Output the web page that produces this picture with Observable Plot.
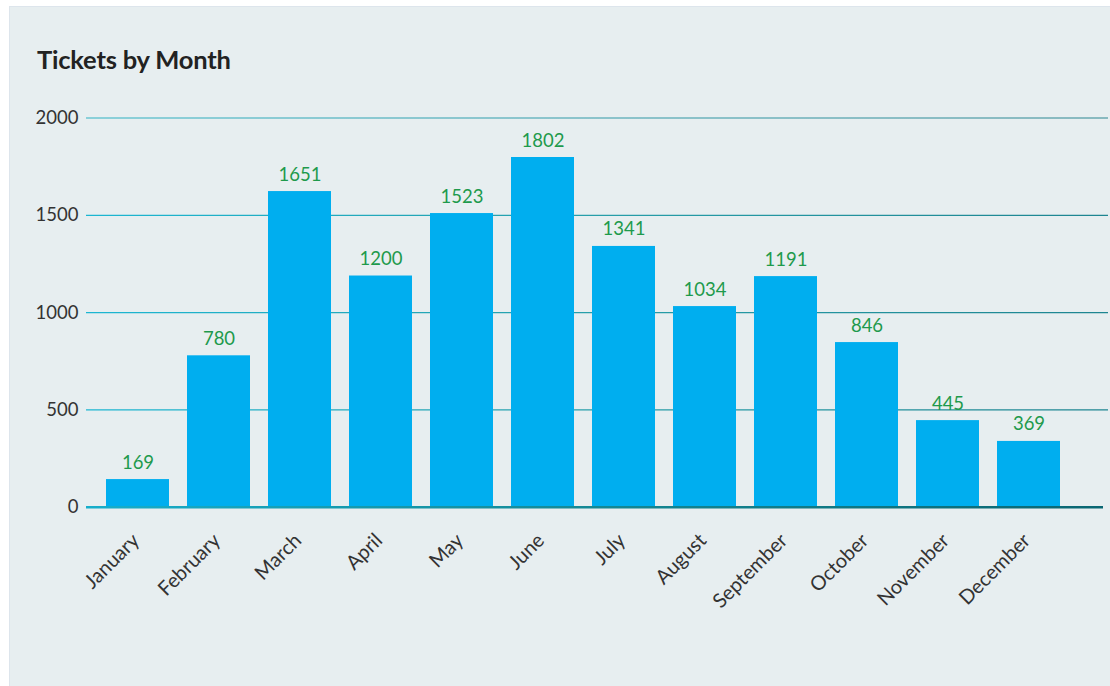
<!DOCTYPE html>
<html>
<head>
<meta charset="utf-8">
<script src="https://cdn.jsdelivr.net/npm/d3@7"></script>
<script src="https://cdn.jsdelivr.net/npm/@observablehq/plot@0.6"></script>
<style>
  html, body { margin: 0; padding: 0; background: #ffffff; }
  body { width: 1110px; height: 686px; position: relative; overflow: hidden; font-family: Lato, "Noto Sans", sans-serif; }
  #panel { position: absolute; left: 9px; top: 6px; width: 1101px; height: 680px; box-sizing: border-box;
           background: #e7eef0; border-top: 1px solid #dde5ec; border-left: 1px solid #dde5ec; }
  #title { position: absolute; left: 37px; top: 46.8px; margin: 0; font: 700 25.5px/1 Lato, sans-serif; color: #222222; letter-spacing: -0.2px; }
  #chart { position: absolute; left: 0; top: 90px; }
</style>
</head>
<body>
<div id="panel"></div>
<h1 id="title">Tickets by Month</h1>
<div id="chart"></div>
<script>
const months = ["January","February","March","April","May","June","July","August","September","October","November","December"];
// bar heights as drawn in the picture
const barValues = [142, 778, 1622, 1188, 1509, 1797, 1340, 1031, 1185, 846, 445, 338];
// value labels printed above the bars
const labelValues = [169, 780, 1651, 1200, 1523, 1802, 1341, 1034, 1191, 846, 445, 369];
const yTicks = [0, 500, 1000, 1500, 2000];

const data = months.map((m, i) => ({month: m, bar: barValues[i], label: labelValues[i]}));

const chart = Plot.plot({
  width: 1110,
  height: 596,
  marginLeft: 86,
  marginRight: 2,
  marginTop: 27.5,
  marginBottom: 179.3,
  style: {background: "none", fontFamily: "Lato, sans-serif", fontSize: "18px", color: "#333333"},
  x: {domain: months, range: [86.5, 1079.5], paddingInner: 0.228, paddingOuter: 0.228, label: null},
  y: {domain: [0, 2000], ticks: yTicks, label: null},
  marks: [
    Plot.ruleY(yTicks.filter(t => t > 0 && t < 2000), {stroke: "url(#gridGrad)", strokeWidth: 1.3}),
    Plot.ruleY([2000], {stroke: "url(#topGrad)", strokeWidth: 1.5}),
    Plot.barY(data, {x: "month", y: "bar", fill: "#00aeef"}),
    Plot.ruleY([0], {stroke: "url(#baseGrad)", strokeWidth: 2.6, insetRight: 5}),
    Plot.text(data, {x: "month", y: "bar", text: d => String(d.label), dy: -11, lineAnchor: "bottom",
                     fill: "#1e9a4c", fontSize: 18.5}),
    Plot.axisY({ticks: yTicks, tickFormat: "d", tickSize: 0, tickPadding: 8, fontSize: 18.5, fill: "#333333", label: null}),
    Plot.axisX({tickSize: 0, tickPadding: 30, dx: -2, tickRotate: -45, fontSize: 20, fill: "#333333", label: null})
  ]
});

// gradient definitions for the grid and baseline strokes
const ns = "http://www.w3.org/2000/svg";
const defs = document.createElementNS(ns, "defs");
function grad(id, stops) {
  const g = document.createElementNS(ns, "linearGradient");
  g.setAttribute("id", id);
  g.setAttribute("gradientUnits", "userSpaceOnUse");
  g.setAttribute("x1", "86"); g.setAttribute("x2", "1108");
  g.setAttribute("y1", "0"); g.setAttribute("y2", "0");
  stops.forEach(([o, c]) => {
    const s = document.createElementNS(ns, "stop");
    s.setAttribute("offset", o); s.setAttribute("stop-color", c);
    g.appendChild(s);
  });
  defs.appendChild(g);
}
grad("gridGrad", [["0", "#1cb6d2"], ["0.5", "#279ea9"], ["1", "#1e8591"]]);
grad("topGrad", [["0", "#6cc6d2"], ["0.5", "#6db5bf"], ["1", "#6aa8b0"]]);
grad("baseGrad", [["0", "#17aecb"], ["0.5", "#148894"], ["1", "#0a6672"]]);
chart.insertBefore(defs, chart.firstChild);

document.getElementById("chart").appendChild(chart);
</script>
</body>
</html>
